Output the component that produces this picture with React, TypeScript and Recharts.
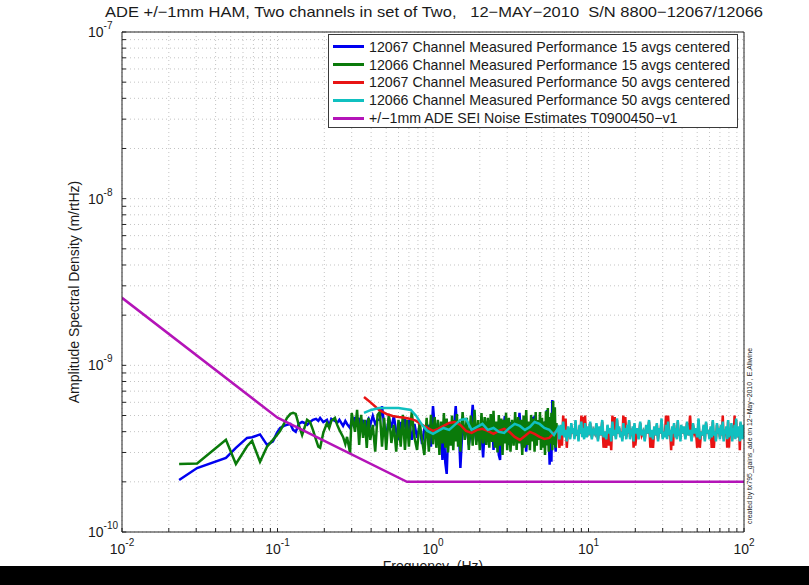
import React from 'react';
import { LineChart, Line, XAxis, YAxis, CartesianGrid, Legend, Customized } from 'recharts';

// Frequencies (Hz) of the 15-average spectra (shared by both channels)
const freq15 = [
  0.0233, 0.0304, 0.0466, 0.054, 0.0637, 0.0686, 0.0772, 0.0856, 0.0935, 0.0993,
  0.104, 0.11, 0.115, 0.121, 0.126, 0.131, 0.137, 0.144, 0.149, 0.155,
  0.162, 0.169, 0.177, 0.183, 0.188, 0.197, 0.208, 0.215, 0.222, 0.234,
  0.242, 0.25, 0.264, 0.273, 0.28, 0.293, 0.3, 0.306, 0.315, 0.325,
  0.335, 0.345, 0.355, 0.365, 0.375, 0.385, 0.395, 0.41, 0.425, 0.44,
  0.455, 0.47, 0.485, 0.5, 0.52, 0.54, 0.56, 0.58, 0.6, 0.62,
  0.64, 0.66, 0.68, 0.7, 0.73, 0.76, 0.79, 0.82, 0.85, 0.88,
  0.91, 0.94, 0.97, 1.0, 1.025, 1.05, 1.075, 1.1, 1.125, 1.15, 1.175, 1.2,
  1.225, 1.25, 1.275, 1.3, 1.325, 1.35, 1.375, 1.4, 1.425, 1.45, 1.475, 1.5,
  1.55, 1.6, 1.65, 1.7, 1.75, 1.8, 1.85, 1.9, 1.95, 2.0, 2.05, 2.1, 2.15, 2.2, 2.25,
  2.3, 2.35, 2.4, 2.45, 2.5, 2.55, 2.6, 2.65, 2.7, 2.75, 2.8, 2.85, 2.9, 2.95, 3.0,
  3.075, 3.15, 3.225, 3.3, 3.375, 3.45, 3.525, 3.6, 3.675, 3.75, 3.825, 3.9, 3.975, 4.05, 4.125,
  4.2, 4.275, 4.35, 4.425, 4.5, 4.575, 4.65, 4.725, 4.8, 4.875, 4.95, 5.025, 5.1, 5.175, 5.25,
  5.325, 5.4, 5.475, 5.55, 5.625, 5.7, 5.775, 5.85, 5.925, 6.0, 6.075, 6.15, 6.225, 6.25,
];

// 12067 channel, 15 avgs (m/rtHz)
const blue15 = [
  2.05e-10, 2.42e-10, 2.78e-10, 3.2e-10, 3.67e-10, 3.7e-10, 3.85e-10, 3.33e-10, 3.5e-10, 3.95e-10,
  4.21e-10, 4.33e-10, 4.39e-10, 4.45e-10, 4.1e-10, 3.99e-10, 4.45e-10, 4.57e-10, 4.51e-10, 4.39e-10,
  4.57e-10, 4.71e-10, 4.77e-10, 4.64e-10, 4.84e-10, 4.57e-10, 4.71e-10, 4.33e-10, 4.77e-10, 4.64e-10,
  4.51e-10, 4.71e-10, 4.33e-10, 4.64e-10, 4.45e-10, 4.21e-10, 4.71e-10, 4.45e-10, 4.9e-10, 4.33e-10,
  4.84e-10, 4.1e-10, 4.71e-10, 3.93e-10, 4.57e-10, 4.77e-10, 4.39e-10, 4.97e-10, 4.45e-10, 4.71e-10,
  4.71e-10, 5.69e-10, 4.39e-10, 3.72e-10, 4.84e-10, 4.21e-10, 4.97e-10, 3.99e-10, 3.57e-10, 4.57e-10,
  4.1e-10, 4.84e-10, 3.77e-10, 4.71e-10, 3.57e-10, 4.45e-10, 3.67e-10, 4.33e-10, 3.37e-10, 4.21e-10,
  3.99e-10, 4.39e-10, 3.25e-10, 5.69e-10, 4.3e-10, 3.9e-10, 4.5e-10, 3.6e-10, 4.2e-10, 2.71e-10, 3.9e-10, 2.6e-10,
  2.23e-10, 3.8e-10, 4.57e-10, 3.9e-10, 4.3e-10, 3.57e-10, 4.6e-10, 5.69e-10, 4.2e-10, 3.99e-10, 3.6e-10, 2.42e-10,
  4.39e-10, 3.8e-10, 4.2e-10, 3.33e-10, 4.0e-10, 5.79e-10, 4.1e-10, 3.5e-10, 4.3e-10, 3.7e-10, 4.0e-10, 2.8e-10, 4.2e-10, 4.39e-10, 3.57e-10,
  4.6e-10, 3.9e-10, 4.84e-10, 3.11e-10, 3.9e-10, 4.3e-10, 3.7e-10, 2.9e-10, 2.71e-10, 4.1e-10, 3.8e-10, 4.4e-10, 4.97e-10, 3.6e-10, 4.2e-10,
  3.33e-10, 4.57e-10, 3.57e-10, 4.2e-10, 3.9e-10, 4.71e-10, 4.0e-10, 5.18e-10, 3.8e-10, 3.2e-10, 4.3e-10, 4.21e-10, 3.03e-10, 4.1e-10, 3.7e-10,
  4.39e-10, 4.0e-10, 4.9e-10, 3.6e-10, 5.0e-10, 3.33e-10, 4.1e-10, 3.9e-10, 3.82e-10, 4.3e-10, 4.39e-10, 3.6e-10, 4.2e-10, 3.9e-10, 4.6e-10,
  3.7e-10, 5.4e-10, 4.0e-10, 3.8e-10, 2.53e-10, 4.1e-10, 2.64e-10, 6.2e-10, 4.0e-10, 4.71e-10, 3.6e-10, 3.03e-10, 4.2e-10, 3.99e-10,
];

// 12066 channel, 15 avgs (m/rtHz)
const green15 = [
  2.56e-10, 2.58e-10, 3.57e-10, 2.56e-10, 3.27e-10, 3.52e-10, 2.64e-10, 3.25e-10, 3.57e-10, 3.82e-10,
  4.04e-10, 4.45e-10, 4.84e-10, 5.11e-10, 5.18e-10, 5.11e-10, 4.39e-10, 3.82e-10, 4.21e-10, 4.71e-10,
  4.57e-10, 4.1e-10, 3.57e-10, 3.25e-10, 3.2e-10, 3.93e-10, 4.51e-10, 4.21e-10, 4.64e-10, 4.84e-10,
  4.39e-10, 4.1e-10, 3.72e-10, 3.37e-10, 3.72e-10, 2.98e-10, 5.18e-10, 4.71e-10, 3.99e-10, 5.4e-10,
  3.33e-10, 5.04e-10, 3.67e-10, 4.71e-10, 3.2e-10, 4.84e-10, 3.57e-10, 4.39e-10, 3.03e-10, 5.04e-10,
  5.25e-10, 3.25e-10, 4.84e-10, 3.11e-10, 5.11e-10, 3.42e-10, 4.39e-10, 3.03e-10, 4.71e-10, 3.25e-10,
  5.04e-10, 3.11e-10, 4.71e-10, 3.25e-10, 5.25e-10, 3.67e-10, 3.11e-10, 4.57e-10, 3.57e-10, 2.9e-10,
  4.84e-10, 3.03e-10, 5.04e-10, 3.37e-10, 4.9e-10, 3.2e-10, 4.71e-10, 2.9e-10, 4.6e-10, 3.4e-10, 5.18e-10, 3.2e-10,
  4.8e-10, 3.0e-10, 4.39e-10, 3.3e-10, 5.0e-10, 3.1e-10, 4.7e-10, 3.5e-10, 5.1e-10, 3.25e-10, 4.6e-10, 3.03e-10,
  5.25e-10, 3.57e-10, 4.84e-10, 3.11e-10, 5.0e-10, 3.3e-10, 5.4e-10, 3.33e-10, 4.7e-10, 3.1e-10, 5.18e-10, 3.4e-10, 4.9e-10, 3.33e-10, 4.84e-10,
  3.2e-10, 5.1e-10, 3.47e-10, 5.33e-10, 3.2e-10, 4.6e-10, 3.0e-10, 5.04e-10, 3.3e-10, 4.8e-10, 2.9e-10, 4.71e-10, 3.4e-10, 5.2e-10, 3.1e-10,
  4.84e-10, 3.03e-10, 4.71e-10, 3.3e-10, 5.25e-10, 3.11e-10, 4.9e-10, 3.4e-10, 4.71e-10, 2.9e-10, 5.0e-10, 3.2e-10, 5.4e-10, 3.33e-10, 4.6e-10,
  3.1e-10, 5.04e-10, 3.5e-10, 4.8e-10, 3.03e-10, 5.25e-10, 3.3e-10, 4.7e-10, 3.57e-10, 5.25e-10, 3.11e-10, 4.84e-10, 3.2e-10, 4.6e-10, 2.9e-10,
  5.3e-10, 3.3e-10, 5.55e-10, 3.03e-10, 4.9e-10, 3.4e-10, 5.2e-10, 3.1e-10, 6.1e-10, 3.33e-10, 5.6e-10, 3.2e-10, 4.5e-10, 4.1e-10,
];

// Frequencies (Hz) of the 50-average spectra (shared by both channels)
const freq50 = [
  0.36, 0.4, 0.45, 0.5, 0.55, 0.6, 0.66, 0.72, 0.78, 0.85,
  0.92, 1.0, 1.08, 1.17, 1.27, 1.38, 1.5, 1.63, 1.77, 1.92,
  2.08, 2.25, 2.45, 2.65, 2.87, 3.1, 3.35, 3.62, 3.9, 4.2,
  4.5, 4.85, 5.2, 5.6, 6.0,
  6.375, 6.5, 6.625, 6.75, 6.875, 7, 7.125, 7.25, 7.375, 7.5, 7.625, 7.75, 7.875, 8, 8.125,
  8.25, 8.375, 8.5, 8.625, 8.75, 8.875, 9, 9.125, 9.25, 9.375, 9.5, 9.625, 9.75, 9.875, 10,
  10.25, 10.5, 10.75, 11, 11.25, 11.5, 11.75, 12, 12.25, 12.5, 12.75, 13, 13.25, 13.5, 13.75, 14, 14.25, 14.5, 14.75, 15,
  15.25, 15.5, 15.75, 16, 16.25, 16.5, 16.75, 17, 17.25, 17.5, 17.75, 18, 18.25, 18.5, 18.75, 19, 19.25, 19.5, 19.75, 20,
  20.5, 21, 21.5, 22, 22.5, 23, 23.5, 24, 24.5, 25, 25.5, 26, 26.5, 27, 27.5, 28, 28.5, 29, 29.5, 30,
  30.5, 31, 31.5, 32, 32.5, 33, 33.5, 34, 34.5, 35, 35.5, 36, 36.5, 37, 37.5, 38, 38.5, 39, 39.5, 40,
  41, 42, 43, 44, 45, 46, 47, 48, 49, 50, 51, 52, 53, 54, 55, 56, 57, 58, 59, 60,
  61, 62, 63, 64, 65, 66, 67, 68, 69, 70, 71, 72, 73, 74, 75, 76, 77, 78, 79, 80,
  81, 82, 83, 84, 85, 86, 87, 88, 89, 90, 91, 92, 93, 94, 95, 96, 97, 98, 99, 100,
];

// 12067 channel, 50 avgs (m/rtHz)
const red50 = [
  6.46e-10, 5.95e-10, 5.4e-10, 5.11e-10, 4.97e-10, 4.9e-10, 4.84e-10, 4.77e-10, 4.64e-10, 4.39e-10,
  4.21e-10, 4.04e-10, 4.16e-10, 4.33e-10, 4.51e-10, 4.57e-10, 4.39e-10, 4.04e-10, 3.93e-10, 4.1e-10,
  4.16e-10, 4.04e-10, 3.88e-10, 4.04e-10, 4.16e-10, 3.99e-10, 3.72e-10, 3.57e-10, 3.77e-10, 3.99e-10,
  3.88e-10, 3.72e-10, 3.62e-10, 3.67e-10, 3.93e-10,
  4.1e-10, 3.2e-10, 4.3e-10, 3.3e-10, 5.0e-10, 3.8e-10, 4.8e-10, 3.2e-10, 4.2e-10, 4.0e-10,
  3.7e-10, 4.4e-10, 3.9e-10, 4.1e-10, 3.7e-10, 4.6e-10, 3.8e-10, 4.0e-10, 3.6e-10, 4.3e-10,
  3.9e-10, 5.0e-10, 3.8e-10, 4.9e-10, 3.7e-10, 5.0e-10, 4.0e-10, 3.8e-10, 4.2e-10, 3.8e-10,
  4.5e-10, 3.7e-10, 4.1e-10, 3.9e-10, 4.4e-10, 3.6e-10, 4.2e-10, 3.8e-10, 4.6e-10, 3.2e-10,
  4.0e-10, 3.2e-10, 4.3e-10, 3.3e-10, 4.1e-10, 3.1e-10, 5.0e-10, 3.8e-10, 4.9e-10, 3.7e-10,
  4.7e-10, 3.9e-10, 4.2e-10, 3.8e-10, 4.0e-10, 3.6e-10, 5.0e-10, 3.8e-10, 4.9e-10, 3.7e-10,
  4.3e-10, 3.9e-10, 4.6e-10, 3.7e-10, 4.1e-10, 3.8e-10, 4.2e-10, 3.2e-10, 4.4e-10, 3.3e-10,
  4.1e-10, 3.7e-10, 4.5e-10, 3.8e-10, 4.0e-10, 3.6e-10, 4.3e-10, 3.9e-10, 4.6e-10, 3.2e-10,
  4.0e-10, 3.2e-10, 4.2e-10, 3.8e-10, 4.4e-10, 3.6e-10, 4.1e-10, 3.9e-10, 4.7e-10, 3.7e-10,
  4.0e-10, 3.8e-10, 5.0e-10, 3.7e-10, 5.0e-10, 3.8e-10, 4.0e-10, 3.1e-10, 4.2e-10, 3.3e-10,
  4.4e-10, 3.8e-10, 4.1e-10, 3.7e-10, 4.6e-10, 3.8e-10, 4.0e-10, 3.6e-10, 4.3e-10, 3.9e-10,
  4.2e-10, 3.7e-10, 4.5e-10, 3.8e-10, 5.0e-10, 3.6e-10, 4.4e-10, 3.9e-10, 4.1e-10, 3.2e-10,
  4.7e-10, 3.2e-10, 4.0e-10, 3.8e-10, 4.3e-10, 3.6e-10, 4.5e-10, 3.9e-10, 4.1e-10, 3.7e-10,
  4.2e-10, 3.2e-10, 4.6e-10, 3.2e-10, 4.0e-10, 3.6e-10, 4.4e-10, 3.9e-10, 4.1e-10, 3.7e-10,
  4.3e-10, 3.8e-10, 5.0e-10, 3.6e-10, 4.1e-10, 3.9e-10, 4.2e-10, 3.2e-10, 4.6e-10, 3.2e-10,
  4.0e-10, 3.8e-10, 4.4e-10, 3.6e-10, 4.1e-10, 3.9e-10, 5.0e-10, 3.7e-10, 4.7e-10, 3.7e-10,
  4.1e-10, 3.8e-10, 4.2e-10, 3.1e-10, 4.5e-10, 3.9e-10, 4.0e-10, 3.7e-10, 4.3e-10, 3.8e-10,
];

// 12066 channel, 50 avgs (m/rtHz)
const cyan50 = [
  5.18e-10, 5.4e-10, 5.55e-10, 5.55e-10, 5.55e-10, 5.55e-10, 5.47e-10, 5.4e-10, 4.97e-10, 4.39e-10,
  4.04e-10, 3.88e-10, 4.04e-10, 4.21e-10, 4.1e-10, 4.39e-10, 4.71e-10, 4.77e-10, 4.1e-10, 4.27e-10,
  4.45e-10, 4.1e-10, 4.21e-10, 3.99e-10, 3.93e-10, 4.21e-10, 4.45e-10, 4.33e-10, 4.1e-10, 4.27e-10,
  4.57e-10, 4.45e-10, 4.21e-10, 4.1e-10, 3.82e-10,
  4.2e-10, 3.6e-10, 4.4e-10, 3.8e-10, 4.6e-10, 3.7e-10, 4.1e-10, 3.5e-10, 4.3e-10, 4.0e-10,
  3.6e-10, 4.5e-10, 3.9e-10, 4.2e-10, 3.6e-10, 4.7e-10, 3.8e-10, 4.1e-10, 3.5e-10, 4.4e-10,
  3.9e-10, 4.6e-10, 3.7e-10, 4.2e-10, 3.6e-10, 4.5e-10, 4.0e-10, 3.7e-10, 4.3e-10, 3.8e-10,
  4.6e-10, 3.6e-10, 4.1e-10, 3.9e-10, 4.5e-10, 3.5e-10, 4.3e-10, 3.8e-10, 4.7e-10, 3.7e-10,
  4.0e-10, 3.6e-10, 4.4e-10, 3.9e-10, 4.2e-10, 3.5e-10, 4.6e-10, 3.8e-10, 4.1e-10, 3.6e-10,
  4.8e-10, 3.9e-10, 4.3e-10, 3.7e-10, 4.0e-10, 3.5e-10, 4.5e-10, 3.8e-10, 4.2e-10, 3.6e-10,
  4.4e-10, 3.9e-10, 4.7e-10, 3.6e-10, 4.1e-10, 3.8e-10, 4.3e-10, 3.5e-10, 4.5e-10, 3.9e-10,
  4.2e-10, 3.6e-10, 4.6e-10, 3.8e-10, 4.0e-10, 3.5e-10, 4.4e-10, 3.9e-10, 4.7e-10, 3.7e-10,
  4.1e-10, 3.6e-10, 4.3e-10, 3.8e-10, 4.5e-10, 3.5e-10, 4.2e-10, 3.9e-10, 4.8e-10, 3.6e-10,
  4.0e-10, 3.7e-10, 4.4e-10, 3.6e-10, 4.6e-10, 3.8e-10, 4.1e-10, 3.5e-10, 4.3e-10, 3.9e-10,
  4.5e-10, 3.7e-10, 4.2e-10, 3.6e-10, 4.7e-10, 3.8e-10, 4.0e-10, 3.5e-10, 4.4e-10, 3.9e-10,
  4.3e-10, 3.6e-10, 4.6e-10, 3.8e-10, 4.1e-10, 3.5e-10, 4.5e-10, 3.9e-10, 4.2e-10, 3.7e-10,
  4.8e-10, 3.6e-10, 4.0e-10, 3.8e-10, 4.4e-10, 3.5e-10, 4.6e-10, 3.9e-10, 4.1e-10, 3.6e-10,
  4.3e-10, 3.7e-10, 4.7e-10, 3.8e-10, 4.0e-10, 3.5e-10, 4.5e-10, 3.9e-10, 4.2e-10, 3.6e-10,
  4.4e-10, 3.8e-10, 4.6e-10, 3.5e-10, 4.1e-10, 3.9e-10, 4.3e-10, 3.6e-10, 4.7e-10, 3.7e-10,
  4.0e-10, 3.8e-10, 4.5e-10, 3.5e-10, 4.2e-10, 3.9e-10, 4.4e-10, 3.6e-10, 4.8e-10, 3.7e-10,
  4.1e-10, 3.8e-10, 4.3e-10, 3.5e-10, 4.6e-10, 3.9e-10, 4.0e-10, 3.6e-10, 4.4e-10, 3.8e-10,
];

// +/-1mm ADE SEI noise estimate
const noiseFreq = [0.01, 0.1, 0.68, 100];
const noiseModel = [2.54e-9, 4.85e-10, 2.0e-10, 2.0e-10];

const seriesNames = [
  '12067 Channel Measured Performance 15 avgs centered',
  '12066 Channel Measured Performance 15 avgs centered',
  '12067 Channel Measured Performance 50 avgs centered',
  '12066 Channel Measured Performance 50 avgs centered',
  '+/\u22121mm ADE SEI Noise Estimates T0900450\u2212v1',
];
const seriesColors = ['#0000f0', '#0a7a0a', '#e81414', '#10c0c0', '#b414b8'];

const xTicks = [
  0.01, 0.02, 0.03, 0.04, 0.05, 0.06, 0.07, 0.08, 0.09,
  0.1, 0.2, 0.3, 0.4, 0.5, 0.6, 0.7, 0.8, 0.9,
  1, 2, 3, 4, 5, 6, 7, 8, 9,
  10, 20, 30, 40, 50, 60, 70, 80, 90, 100,
];
const xDecades = [0.01, 0.1, 1, 10, 100];
const xDecadeExp = ['-2', '-1', '0', '1', '2'];

const yTicks = [
  1e-10, 2e-10, 3e-10, 4e-10, 5e-10, 6e-10, 7e-10, 8e-10, 9e-10,
  1e-9, 2e-9, 3e-9, 4e-9, 5e-9, 6e-9, 7e-9, 8e-9, 9e-9,
  1e-8, 2e-8, 3e-8, 4e-8, 5e-8, 6e-8, 7e-8, 8e-8, 9e-8, 1e-7,
];
const yDecades = [1e-10, 1e-9, 1e-8, 1e-7];
const yDecadeExp = ['-10', '-9', '-8', '-7'];

const titleText =
  'ADE +/\u22121mm HAM, Two channels in set of Two,\u00a0\u00a0\u00a012\u2212MAY\u22122010\u00a0\u00a0S/N 8800\u221212067/12066';
const yLabelText = 'Amplitude Spectral Density (m/rtHz)';
const xLabelText = 'Frequency\u00a0\u00a0(Hz)';
const creditText = 'created by tx795_gains_ade on 12\u2212May\u22122010 , E.Allwine';

const FONT = '"Liberation Sans", Arial, Helvetica, sans-serif';

const toRows = (fs: number[], vs: number[]) => fs.map((f, i) => ({ f, v: vs[i] }));
const blueData = toRows(freq15, blue15);
const greenData = toRows(freq15, green15);
const redData = toRows(freq50, red50);
const cyanData = toRows(freq50, cyan50);
const noiseData = toRows(noiseFreq, noiseModel);
const seriesData = [blueData, greenData, redData, cyanData, noiseData];

const findIdx = (arr: number[], v: number) => arr.findIndex((d) => Math.abs(d - v) / d < 1e-6);

const XTick = (props: any) => {
  const { x, y, payload } = props;
  const i = findIdx(xDecades, payload.value);
  if (i < 0) return <g />;
  return (
    <text x={x} y={y + 22} textAnchor="middle" fontSize={14} fill="#1a1a1a" fontFamily={FONT}>
      10
      <tspan dy={-8} fontSize={10}>{xDecadeExp[i]}</tspan>
    </text>
  );
};

const YTick = (props: any) => {
  const { x, y, payload } = props;
  const i = findIdx(yDecades, payload.value);
  if (i < 0) return <g />;
  return (
    <text x={x - 34} y={y + 5} textAnchor="start" fontSize={14} fill="#1a1a1a" fontFamily={FONT}>
      10
      <tspan dy={-8} fontSize={10}>{yDecadeExp[i]}</tspan>
    </text>
  );
};

const renderLegend = () => (
  <div
    style={{
      background: '#fff',
      border: '1px solid #3a3a3a',
      width: 410,
      height: 94,
      boxSizing: 'border-box',
      paddingTop: 3,
      fontFamily: FONT,
      fontSize: 14.2,
      color: '#1a1a1a',
    }}
  >
    {seriesNames.map((name, i) => (
      <div key={name} style={{ display: 'flex', alignItems: 'center', height: 17.8, whiteSpace: 'nowrap' }}>
        <div style={{ width: 31, height: 3, background: seriesColors[i], marginLeft: 4, marginRight: 5 }} />
        <span>{name}</span>
      </div>
    ))}
  </div>
);

const Annotations = () => (
  <g fontFamily={FONT} fill="#1a1a1a">
    <text x={434} y={17} textAnchor="middle" fontSize={15} textLength={658} lengthAdjust="spacingAndGlyphs">
      {titleText}
    </text>
    <text x={74} y={292} textAnchor="middle" fontSize={14} transform="rotate(-90 74 292)" dy={5}>
      {yLabelText}
    </text>
    <text x={433} y={571} textAnchor="middle" fontSize={14}>
      {xLabelText}
    </text>
    <text
      x={750}
      y={436}
      textAnchor="middle"
      fontSize={7}
      transform="rotate(-90 750 436)"
      dy={2}
      textLength={176}
      lengthAdjust="spacingAndGlyphs"
    >
      {creditText}
    </text>
  </g>
);

export default function App() {
  return (
    <div style={{ position: 'relative', width: 809, height: 585, background: '#fff', overflow: 'hidden' }}>
      <style>{'body{margin:0;background:#fff;}'}</style>
      <LineChart width={809} height={585} margin={{ top: 31, right: 64, bottom: 23, left: 82 }}>
        <CartesianGrid stroke="#c4c4c4" strokeDasharray="1 3" strokeWidth={1} />
        <XAxis
          dataKey="f"
          type="number"
          scale="log"
          domain={[0.01, 100]}
          allowDataOverflow
          ticks={xTicks}
          interval={0}
          height={30}
          tickSize={-4}
          tickMargin={4}
          tick={<XTick />}
          axisLine={{ stroke: '#222' }}
          tickLine={{ stroke: '#222' }}
        />
        <XAxis
          xAxisId="top"
          orientation="top"
          dataKey="f"
          type="number"
          scale="log"
          domain={[0.01, 100]}
          allowDataOverflow
          ticks={xTicks}
          interval={0}
          height={1}
          tickSize={-4}
          tick={false}
          axisLine={{ stroke: '#222' }}
          tickLine={{ stroke: '#222' }}
        />
        <YAxis
          type="number"
          scale="log"
          domain={[1e-10, 1e-7]}
          allowDataOverflow
          ticks={yTicks}
          interval={0}
          width={40}
          tickSize={-4}
          tickMargin={4}
          tick={<YTick />}
          axisLine={{ stroke: '#222' }}
          tickLine={{ stroke: '#222' }}
        />
        <YAxis
          yAxisId="right"
          orientation="right"
          type="number"
          scale="log"
          domain={[1e-10, 1e-7]}
          allowDataOverflow
          ticks={yTicks}
          interval={0}
          width={1}
          tickSize={-4}
          tick={false}
          axisLine={{ stroke: '#222' }}
          tickLine={{ stroke: '#222' }}
        />
        {seriesData.map((d, i) => (
          <Line
            key={seriesNames[i]}
            name={seriesNames[i]}
            data={d}
            dataKey="v"
            type="linear"
            stroke={seriesColors[i]}
            strokeWidth={2.5}
            dot={false}
            activeDot={false}
            isAnimationActive={false}
            strokeLinejoin="miter"
          />
        ))}
        <Legend
          layout="vertical"
          align="center"
          verticalAlign="middle"
          content={renderLegend}
          wrapperStyle={{ position: 'absolute', left: 328, top: 34, width: 410, height: 94 }}
        />
        <Customized component={Annotations} />
      </LineChart>
      <div style={{ position: 'absolute', left: 0, top: 566, width: 809, height: 19, background: '#000' }} />
    </div>
  );
}
